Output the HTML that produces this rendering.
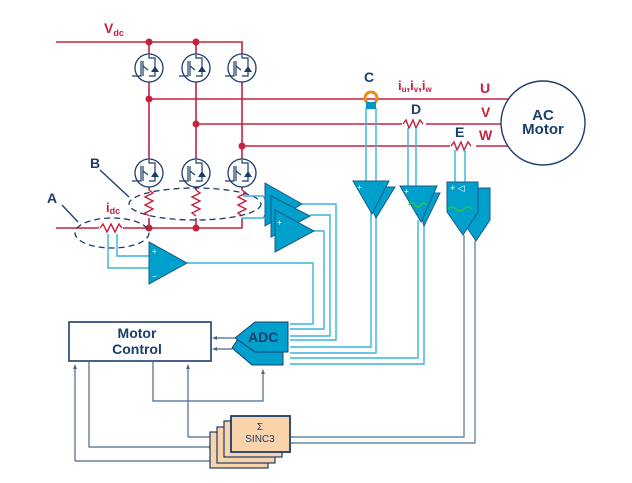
<!DOCTYPE html>
<html><head><meta charset="utf-8"><style>body{margin:0;background:#fff}svg{display:block}</style></head><body>
<svg width="632" height="483" viewBox="0 0 632 483" xmlns="http://www.w3.org/2000/svg" font-family="Liberation Sans, sans-serif">
<g stroke="#c8203f" stroke-width="1.6" fill="none">
<path d="M56 42H242V228H56"/>
<path d="M149 42V228M196 42V228"/>
<path d="M149 99H510M196 124H502M242 146H510"/>
</g>
<g fill="#c8203f">
<circle cx="149" cy="42" r="3.5"/><circle cx="196" cy="42" r="3.5"/>
<circle cx="149" cy="99" r="3.5"/><circle cx="196" cy="124" r="3.5"/><circle cx="242" cy="146" r="3.5"/>
<circle cx="149" cy="228" r="3.5"/><circle cx="196" cy="228" r="3.5"/>
</g>
<g fill="#fff" stroke="none">
<rect x="143" y="190" width="12" height="28"/><rect x="190" y="190" width="12" height="28"/><rect x="236" y="190" width="12" height="28"/>
<rect x="99" y="222" width="24" height="12"/><rect x="402" y="119" width="24" height="10"/><rect x="450" y="141" width="26" height="10"/>
</g>
<g stroke="#c8203f" stroke-width="1.4" fill="none">
<path d="M149 190l4 3-8 4 8 4-8 4 8 4-8 4 4 3"/>
<path d="M196 190l4 3-8 4 8 4-8 4 8 4-8 4 4 3"/>
<path d="M242 190l4 3-8 4 8 4-8 4 8 4-8 4 4 3"/>
<path d="M100 228l3-4 4 8 4-8 4 8 4-8 3 4"/>
<path d="M403 124l3-4 3 8 4-8 3 8 4-8 3 4"/>
<path d="M451 146l3-4 3 8 4-8 3 8 4-8 3 4"/>
</g>
<g stroke="#1b3d6b" stroke-width="1.3" fill="#fff">
<circle cx="149" cy="68" r="14"/><circle cx="196" cy="68" r="14"/><circle cx="242" cy="68" r="14"/>
<circle cx="149" cy="173" r="14"/><circle cx="196" cy="173" r="14"/><circle cx="242" cy="173" r="14"/>
</g>
<g id="ig" stroke="#1b3d6b" stroke-width="1.2" fill="none">
<path d="M132 76h9V61M143 61v15M143 66l5 4M149 55v3h6v18h-6"/>
</g>
<g fill="#1b3d6b">
<path d="M151 72h8l-4-6z"/><path d="M198 72h8l-4-6z"/><path d="M244 72h8l-4-6z"/>
<path d="M151 177h8l-4-6z"/><path d="M198 177h8l-4-6z"/><path d="M244 177h8l-4-6z"/>
</g>
<use href="#ig" x="47"/><use href="#ig" x="93"/><use href="#ig" y="105"/><use href="#ig" x="47" y="105"/><use href="#ig" x="93" y="105"/>
<g stroke="#1b3d6b" stroke-width="1.3" fill="none" stroke-dasharray="6 4">
<ellipse cx="112" cy="233" rx="37" ry="15"/><ellipse cx="195" cy="204" rx="66" ry="16"/>
</g>
<path d="M62 205L78 222M100 170L129 197" stroke="#1b3d6b" stroke-width="1.3"/>
<text x="47" y="203" font-size="14" font-weight="bold" fill="#1b3d6b">A</text>
<text x="90" y="168" font-size="14" font-weight="bold" fill="#1b3d6b">B</text>
<text x="106" y="212" font-size="13" font-weight="bold" fill="#c8203f">i<tspan font-size="9" dy="2">dc</tspan></text>
<text x="104" y="33" font-size="14" font-weight="bold" fill="#c8203f">V<tspan font-size="9" dy="3">dc</tspan></text>
<text x="364" y="82" font-size="14" font-weight="bold" fill="#1b3d6b">C</text>
<text x="411" y="114" font-size="14" font-weight="bold" fill="#1b3d6b">D</text>
<text x="455" y="137" font-size="14" font-weight="bold" fill="#1b3d6b">E</text>
<text x="398" y="90" font-size="13" font-weight="bold" fill="#c8203f">i<tspan font-size="8" dy="2">u</tspan><tspan dy="-2">,i</tspan><tspan font-size="8" dy="2">v</tspan><tspan dy="-2">,i</tspan><tspan font-size="8" dy="2">w</tspan></text>
<text x="480" y="93" font-size="14" font-weight="bold" fill="#c8203f">U</text>
<text x="481" y="117" font-size="14" font-weight="bold" fill="#c8203f">V</text>
<text x="479" y="140" font-size="14" font-weight="bold" fill="#c8203f">W</text>
<circle cx="543" cy="123" r="42" fill="#fff" stroke="#1b3d6b" stroke-width="1.4"/>
<text x="543" y="120" font-size="15" font-weight="bold" fill="#1b3d6b" text-anchor="middle">AC</text>
<text x="543" y="134" font-size="15" font-weight="bold" fill="#1b3d6b" text-anchor="middle">Motor</text>
<g stroke="#39b4dc" stroke-width="1.4" fill="none">
<path d="M108 234V268H149M117 234V256H149"/>
<path d="M187 263H313V324H290M302 204H336V340H290M310 215H330V336H290M314 231H324V329H290"/>
<path d="M366 108V181M376 108V181M371 212V347H290M376 216V353H290"/>
<path d="M408 128V186M416 128V186M418 220V358H290M424 224V364H290"/>
<path d="M455 150V182M465 150V182"/>
<path d="M243 196h20l4 6v10l-4 6h-21"/>
</g>
<g stroke="#6a8aa5" stroke-width="1.4" fill="none"><path d="M464 235V437H290M475 241V443H290"/></g>
<circle cx="371" cy="98" r="6" fill="none" stroke="#ef8a1e" stroke-width="3"/>
<rect x="366" y="102" width="10" height="7" fill="#0099c6"/>
<g fill="#00a0cc" stroke="#1b5a8a" stroke-width="1">
<path d="M149 242L187 263L149 284Z"/>
<path d="M265 183L302 204L265 226Z"/><path d="M271 196L310 216L271 237Z"/><path d="M275 210L314 231L275 252Z"/>
<path d="M362 187H395L376 218Z"/><path d="M353 181H389L372 214Z"/>
<path d="M415 193H440L424 226Z"/><path d="M400 186H437L421 222Z"/>
<path d="M462 188H490V220L476 241L462 220Z"/><path d="M447 182H478V212L463 235L447 212Z"/>
</g>
<g fill="#fff" font-size="8"><text x="152" y="254">+</text><text x="152" y="279">−</text><text x="277" y="225">+</text><text x="357" y="190">+</text><text x="404" y="194">+</text><text x="450" y="191" font-size="9">+ ◁</text></g>
<g stroke="#2fbf4a" stroke-width="1.5" fill="none"><path d="M409 205q3-4 6 0t6 0 6 0M448 209q4-4 8 0t8 0 8 0"/></g>
<rect x="69" y="322" width="142" height="39" fill="#fff" stroke="#1b3d6b" stroke-width="1.6"/>
<text x="137" y="338" font-size="14" font-weight="bold" fill="#1b3d6b" text-anchor="middle">Motor</text>
<text x="137" y="354" font-size="14" font-weight="bold" fill="#1b3d6b" text-anchor="middle">Control</text>
<g fill="#00a0cc" stroke="#1b3d6b" stroke-width="1"><path d="M242 333L252 342H283V365H252L232 348Z"/><path d="M235 338L255 322H288V352H255Z"/></g>
<text x="248" y="342" font-size="14" font-weight="bold" fill="#1b3d6b">ADC</text>
<g stroke="#4a6a8a" stroke-width="1.2" fill="none">
<path d="M235 338H216M232 349H216"/>
<path d="M153 361V401H263V372M188 437V367M89 361V447H215M75 461V367M75 461H215M188 437H215"/>
</g>
<g fill="#4a6a8a"><path d="M212 338l5-2v4zM212 349l5-2v4zM263 369l-2 5h4zM188 364l-2 5h4zM75 364l-2 5h4zM214 447l-5-2v4z"/></g>
<g fill="#f9d3a9" stroke="#1b3d6b" stroke-width="1.2">
<rect x="210" y="432" width="58" height="36"/><rect x="217" y="427" width="58" height="36"/><rect x="224" y="421" width="58" height="36"/>
<rect x="231" y="416" width="59" height="36" stroke-width="1.8"/>
</g>
<text x="260" y="430" font-size="10" fill="#1b3d6b" text-anchor="middle">Σ</text>
<text x="260" y="442" font-size="10" fill="#1b3d6b" text-anchor="middle">SINC3</text>
</svg>
</body></html>
